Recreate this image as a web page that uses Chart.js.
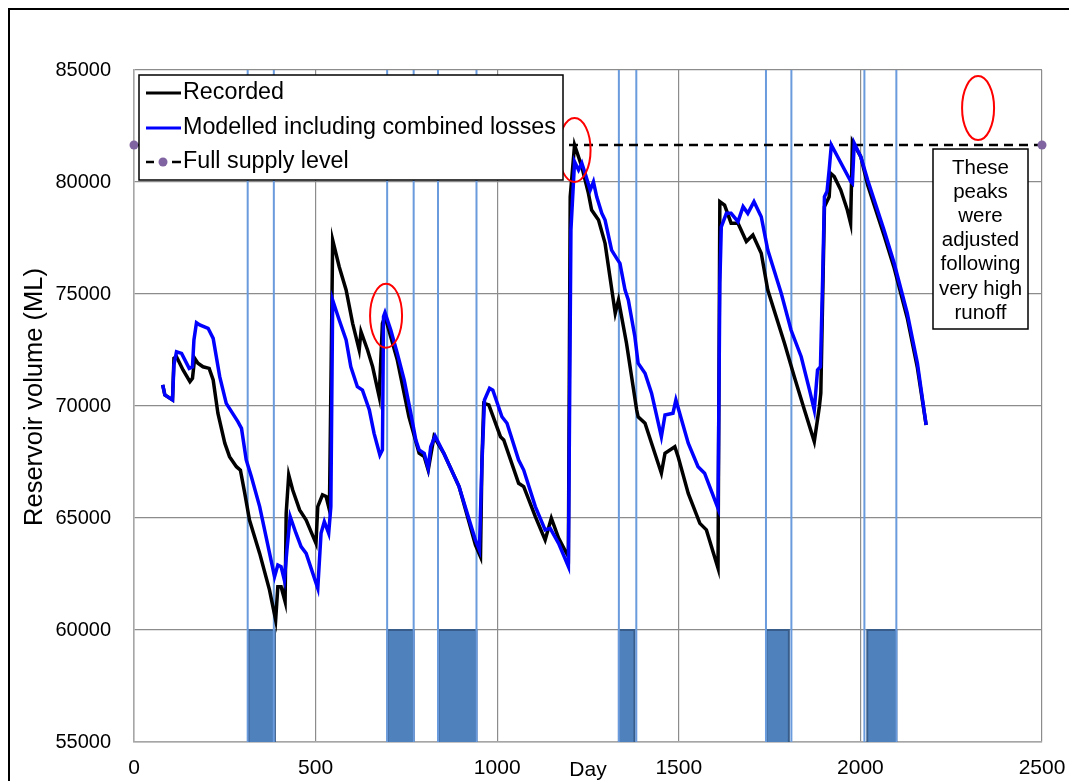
<!doctype html>
<html>
  <head>
    <title>Reservoir volume - recorded vs modelled</title>
    <style>
      html, body { margin: 0; padding: 0; background: #ffffff; }
      #wrap { width: 1069px; height: 781px; }
    </style>
  </head>
  <body>
    <div id="wrap"><canvas id="lineChart" width="1069" height="781"></canvas></div>

    <script src="https://cdn.jsdelivr.net/npm/chart.js"></script>
    <script>
      // --- data ---
      var recordedDays = [79, 85, 106, 110, 117, 135, 154, 161, 167, 176, 190, 207, 218, 231, 250, 263, 282, 293, 305, 318,
        346, 373, 390, 396, 405, 416, 419, 426, 437, 456, 474, 501, 506, 519, 529, 538, 547, 565, 584, 602,
        620, 625, 643, 657, 675, 684, 691, 725, 757, 785, 799, 810, 826, 853, 895, 940, 954, 958, 963, 977,
        1009, 1018, 1059, 1073, 1105, 1132, 1149, 1169, 1196, 1201, 1213, 1233, 1251, 1260, 1279, 1297, 1325, 1334, 1356, 1384,
        1388, 1407, 1425, 1452, 1462, 1489, 1498, 1526, 1558, 1576, 1608, 1613, 1626, 1644, 1663, 1686, 1704, 1727, 1745, 1791,
        1818, 1846, 1873, 1887, 1891, 1901, 1914, 1918, 1928, 1946, 1964, 1973, 1978, 2001, 2020, 2065, 2093, 2129, 2157, 2181];
      var recordedVolume = [70940, 70490, 70270, 72130, 72200, 71610, 71090, 71240, 72130, 71910, 71750, 71680, 71160, 69680, 68340, 67740, 67290, 67140, 66100, 64910,
        63420, 61790, 60450, 61930, 61930, 61270, 65210, 66920, 66250, 65360, 64910, 63870, 65510, 66030, 65960, 65360, 77410, 76220, 75180, 73690,
        72500, 73320, 72500, 71750, 70420, 73690, 73990, 72050, 69520, 67890, 67740, 67140, 68630, 67890, 66400, 63800, 63270, 67590, 70120, 70050,
        68630, 68480, 66550, 66400, 65060, 64020, 64990, 64100, 63270, 79340, 81650, 80680, 79500, 78750, 78300, 77260, 74140, 74730, 72800, 69820,
        69520, 69230, 68340, 67000, 67890, 68180, 67740, 66100, 64760, 64470, 62760, 79120, 78970, 78160, 78160, 77340, 77630, 76820, 75180, 72800,
        71310, 69820, 68410, 69970, 70570, 78900, 79340, 80390, 80240, 79640, 78750, 78160, 81800, 81130, 79870, 77630, 76160, 73930, 71700, 69150];

      var modelledDays = [79, 85, 106, 110, 117, 131, 152, 161, 165, 172, 181, 204, 218, 236, 254, 286, 296, 309, 323, 346,
        387, 396, 405, 414, 421, 430, 446, 460, 474, 506, 515, 524, 536, 542, 547, 565, 584, 597, 615, 629,
        648, 661, 677, 684, 687, 691, 707, 725, 744, 762, 776, 785, 799, 810, 817, 829, 853, 895, 940, 951,
        958, 965, 979, 988, 1013, 1027, 1059, 1073, 1105, 1132, 1146, 1169, 1196, 1203, 1213, 1224, 1233, 1242, 1256, 1265,
        1274, 1288, 1297, 1315, 1329, 1338, 1352, 1361, 1379, 1388, 1407, 1425, 1452, 1462, 1484, 1492, 1526, 1553, 1571, 1608,
        1613, 1617, 1631, 1644, 1663, 1677, 1690, 1707, 1727, 1745, 1782, 1809, 1837, 1860, 1873, 1882, 1890, 1896, 1901, 1908,
        1914, 1920, 1974, 1978, 1983, 2001, 2020, 2065, 2093, 2129, 2157, 2181];
      var modelledVolume = [70940, 70490, 70270, 71830, 72420, 72350, 71680, 71750, 72950, 73720, 73620, 73470, 73020, 71310, 70120, 69300, 69000, 67590, 66850, 65510,
        62380, 62900, 62830, 62230, 63570, 65060, 64320, 63720, 63420, 61860, 64320, 64840, 64320, 65510, 74730, 73840, 72950, 71750, 70860, 70710,
        69820, 68780, 67810, 68040, 73990, 74170, 73390, 72350, 71160, 69680, 68480, 68040, 67890, 67220, 68180, 68660, 67890, 66400, 64020, 63570,
        67440, 70270, 70790, 70710, 69520, 69230, 67590, 67140, 65510, 64470, 64540, 63870, 62830, 77860, 80910, 80540, 80840, 80390, 79640, 80010,
        79340, 78600, 78300, 76960, 76590, 76370, 75180, 74730, 73100, 71910, 71460, 70570, 68630, 69600, 69680, 70270, 68340, 67290, 67000, 65430,
        75480, 78000, 78600, 78600, 78230, 78900, 78600, 79120, 78450, 76960, 75030, 73390, 72200, 70710, 69820, 71610, 71750, 75630, 79340, 79570,
        80540, 81650, 80010, 79940, 81730, 81130, 80090, 77860, 76370, 74140, 71910, 69150];

      var fullSupplyLevel = 81650;
      var fullSupplyDays = [0, 2500];

      // days of the blue vertical markers and the shaded periods at the bottom
      var eventDays = [313, 385, 697, 770, 837, 943, 1335, 1383, 1740, 1810, 2011, 2099];
      var periodStart = [315, 698, 838, 1335, 1741, 2019];
      var periodEnd = [388, 770, 943, 1378, 1803, 2099];
      var periodLevel = 60000;

      var xTicks = [0, 500, 1000, 1500, 2000, 2500];
      var yTicks = [55000, 60000, 65000, 70000, 75000, 80000, 85000];

      var yTitle = "Reservoir volume (ML)";
      var xTitle = "Day";
      var note = ["These", "peaks", "were", "adjusted", "following", "very high", "runoff"];
      var legendLabels = ["Recorded", "Modelled including combined losses", "Full supply level"];

      var FONT = "'Liberation Sans', Arial, sans-serif";
      var yMin = yTicks[0], yMax = yTicks[yTicks.length - 1];

      function pairs(xs, ys) {
        return xs.map(function (d, i) { return { x: d, y: ys[i] }; });
      }

      var eventLines = [];
      eventDays.forEach(function (d) {
        eventLines.push({ x: d, y: yMin }, { x: d, y: yMax }, { x: d, y: null });
      });

      var periodBars = [];
      periodStart.forEach(function (s, i) {
        var e = periodEnd[i];
        periodBars.push({ x: s, y: yMin }, { x: s, y: periodLevel }, { x: e, y: periodLevel }, { x: e, y: yMin }, { x: e, y: null });
      });

      // red ellipses, annotation box, legend, axis titles, outer frame
      var overlay = {
        id: "overlay",
        afterDatasetsDraw: function (chart) {
          var ctx = chart.ctx;
          var xs = chart.scales.x, ys = chart.scales.y;
          ctx.save();

          // red ellipses marking adjusted peaks
          ctx.strokeStyle = "#ff0000";
          ctx.lineWidth = 2;
          [[1213, 81430], [694, 74030], [2324, 83300]].forEach(function (c) {
            ctx.beginPath();
            ctx.ellipse(xs.getPixelForValue(c[0]), ys.getPixelForValue(c[1]), 16, 32, 0, 0, Math.PI * 2);
            ctx.stroke();
          });

          // legend box
          var lx = 139, ly = 75, lw = 424, lh = 105;
          ctx.fillStyle = "#ffffff";
          ctx.fillRect(lx, ly, lw, lh);
          ctx.strokeStyle = "#000000";
          ctx.lineWidth = 1.5;
          ctx.strokeRect(lx, ly, lw, lh);
          ctx.font = "23.3px " + FONT;
          ctx.textBaseline = "middle";
          ctx.textAlign = "left";
          var rows = [93, 128, 162];
          ctx.lineWidth = 3;
          ctx.strokeStyle = "#000000";
          ctx.beginPath(); ctx.moveTo(146, rows[0]); ctx.lineTo(181, rows[0]); ctx.stroke();
          ctx.strokeStyle = "#0000ff";
          ctx.beginPath(); ctx.moveTo(146, rows[1]); ctx.lineTo(181, rows[1]); ctx.stroke();
          ctx.strokeStyle = "#000000";
          ctx.lineWidth = 2.5;
          ctx.beginPath(); ctx.moveTo(146, rows[2]); ctx.lineTo(154, rows[2]); ctx.moveTo(172, rows[2]); ctx.lineTo(181, rows[2]); ctx.stroke();
          ctx.fillStyle = "#8064a2";
          ctx.beginPath(); ctx.arc(163, rows[2], 4.5, 0, Math.PI * 2); ctx.fill();
          ctx.fillStyle = "#000000";
          legendLabels.forEach(function (t, i) { ctx.fillText(t, 183, rows[i]); });

          // annotation box
          var bx = 933, by = 149, bw = 95, bh = 180;
          ctx.fillStyle = "#ffffff";
          ctx.fillRect(bx, by, bw, bh);
          ctx.strokeStyle = "#000000";
          ctx.lineWidth = 1.5;
          ctx.strokeRect(bx, by, bw, bh);
          ctx.fillStyle = "#000000";
          ctx.font = "20.5px " + FONT;
          ctx.textAlign = "center";
          note.forEach(function (t, i) { ctx.fillText(t, bx + bw / 2, 168 + i * 24.2); });

          ctx.restore();
        },
        afterDraw: function (chart) {
          var ctx = chart.ctx;
          var xs = chart.scales.x;
          ctx.save();
          ctx.fillStyle = "#000000";
          ctx.textBaseline = "middle";
          ctx.textAlign = "center";
          ctx.font = "21px " + FONT;
          ctx.fillText(xTitle, xs.getPixelForValue(1250), 770);

          ctx.translate(35, 397);
          ctx.rotate(-Math.PI / 2);
          ctx.font = "25.5px " + FONT;
          ctx.fillText(yTitle, 0, 0);
          ctx.restore();

          // outer chart frame
          ctx.save();
          ctx.strokeStyle = "#000000";
          ctx.lineWidth = 2;
          ctx.strokeRect(9, 9, 1200, 1000);
          ctx.restore();
        }
      };

      var ctx = document.getElementById("lineChart").getContext("2d");
      var chart = new Chart(ctx, {
        type: "line",
        data: {
          datasets: [
            {
              label: "Modelled including combined losses",
              data: pairs(modelledDays, modelledVolume),
              borderColor: "#0000ff",
              borderWidth: 3.5,
              pointRadius: 0,
              fill: false,
              order: 1,
            },
            {
              label: "Recorded",
              data: pairs(recordedDays, recordedVolume),
              borderColor: "#000000",
              borderWidth: 3.5,
              pointRadius: 0,
              fill: false,
              order: 2,
            },
            {
              label: "Full supply level",
              data: fullSupplyDays.map(function (d) { return { x: d, y: fullSupplyLevel }; }),
              borderColor: "#000000",
              borderWidth: 2.5,
              borderDash: [9, 6],
              pointRadius: 4.5,
              pointBackgroundColor: "#8064a2",
              pointBorderWidth: 0,
              clip: false,
              fill: false,
              order: 3,
            },
            {
              label: "events",
              data: eventLines,
              borderColor: "#6a9bdc",
              borderWidth: 2,
              pointRadius: 0,
              spanGaps: false,
              fill: false,
              order: 4,
            },
            {
              label: "periods",
              data: periodBars,
              borderColor: "#385d8a",
              backgroundColor: "#4f81bd",
              borderWidth: 2,
              pointRadius: 0,
              spanGaps: false,
              fill: "start",
              order: 5,
            },
          ],
        },
        options: {
          responsive: false,
          animation: false,
          devicePixelRatio: 1,
          layout: { padding: { top: 70, right: 27, left: 0, bottom: 0 } },
          plugins: {
            legend: { display: false },
            tooltip: { enabled: false },
          },
          elements: { line: { tension: 0 } },
          scales: {
            x: {
              type: "linear",
              min: xTicks[0],
              max: xTicks[xTicks.length - 1],
              afterBuildTicks: function (scale) {
                scale.ticks = xTicks.map(function (v) { return { value: v }; });
              },
              afterFit: function (scale) {
                scale.height = 39;
                scale.paddingLeft = 0;
                scale.paddingRight = 0;
              },
              grid: { color: "#8c8c8c", lineWidth: 1.2, drawTicks: false },
              border: { color: "#a6a6a6", width: 1.5 },
              ticks: {
                color: "#000000",
                padding: 14,
                maxRotation: 0,
                font: { family: FONT, size: 21 },
                callback: function (v) { return String(v); },
              },
            },
            y: {
              type: "linear",
              min: yMin,
              max: yMax,
              afterBuildTicks: function (scale) {
                scale.ticks = yTicks.map(function (v) { return { value: v }; });
              },
              afterFit: function (scale) {
                scale.width = 134;
                scale.paddingTop = 0;
                scale.paddingBottom = 0;
              },
              grid: { color: "#8c8c8c", lineWidth: 1.2, drawTicks: false },
              border: { color: "#a6a6a6", width: 1.5 },
              ticks: {
                color: "#000000",
                padding: 23,
                font: { family: FONT, size: 20 },
                callback: function (v) { return String(v); },
              },
            },
          },
        },
        plugins: [overlay],
      });
    </script>
  </body>
</html>
